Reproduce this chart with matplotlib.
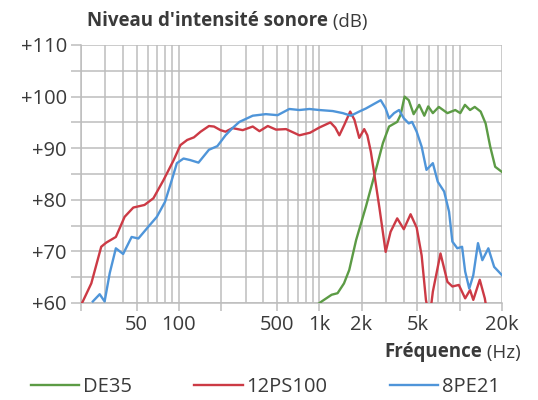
import numpy as np
import matplotlib
matplotlib.use("Agg")
import matplotlib.pyplot as plt
from matplotlib.ticker import FixedLocator, NullFormatter

plt.rcParams['font.family'] = ['Open Sans', 'DejaVu Sans']

# DE35 (green)
de35_f = [950, 1040, 1225, 1350, 1500, 1635, 1830, 2150, 2530, 2840, 3140, 3590, 3800,
          4050, 4340, 4700, 5150, 5600, 5970, 6440, 7100, 8180, 9300, 10100, 10900,
          11850, 12800, 14100, 15300, 16500, 17900, 20000]
de35_db = [59.5, 60.3, 61.6, 61.9, 63.8, 66.4, 72.2, 78.7, 85.8, 91.0, 94.2, 95.1, 96.5,
           100.0, 99.3, 96.6, 98.4, 96.3, 98.1, 96.8, 98.0, 96.8, 97.4, 96.8, 98.4,
           97.4, 98.0, 97.1, 94.8, 90.3, 86.4, 85.4]

# 12PS100 (red)
ps100_f = [20, 20.7, 23.8, 28, 30.4, 35.6, 41.1, 47.4, 56.9, 65.9, 77.7, 91.9, 102.6,
           114.7, 128, 142.9, 163.8, 177.9, 197.9, 215, 241, 285, 336, 375, 430, 492,
           580, 722, 860, 1000, 1200, 1300, 1390, 1506, 1660, 1780, 1926, 2090, 2200,
           2330, 2450, 2680, 2970, 3220, 3590, 4000, 4470, 4940, 5360, 5750, 6100,
           6440, 7300, 8180, 8870, 9860, 10940, 11850, 12500, 13900, 15100, 15500]
ps100_db = [59.5, 60.3, 63.8, 70.9, 71.7, 72.8, 76.7, 78.5, 79.0, 80.3, 83.8, 87.7, 90.6,
            91.6, 92.1, 93.2, 94.3, 94.2, 93.5, 93.2, 93.9, 93.5, 94.2, 93.3, 94.3, 93.6,
            93.7, 92.5, 93.0, 94.0, 95.0, 94.0, 92.5, 94.5, 97.1, 95.5, 92.0, 93.7, 92.5,
            89.3, 85.5, 78.5, 69.9, 73.8, 76.4, 74.3, 77.2, 74.6, 69.2, 60.6, 57.0,
            62.2, 69.6, 64.1, 63.2, 63.5, 60.9, 62.5, 60.6, 64.5, 60.9, 59.0]

# 8PE21 (blue)
pe21_f = [24.4, 27.3, 29.6, 32.2, 35.6, 40.1, 46.1, 51.5, 60.7, 69.7, 79.7, 89, 96.8,
          108, 120.5, 138, 163.8, 188, 215, 241, 270, 336, 416, 505, 612, 722, 850,
          1000, 1247, 1470, 1680, 1926, 2150, 2500, 2740, 2970, 3140, 3410, 3700, 4000,
          4340, 4580, 4940, 5360, 5800, 6440, 6980, 7750, 8400, 8870, 9620, 10400,
          10940, 11700, 12500, 13500, 14500, 16000, 17600, 20000]
pe21_db = [60.3, 61.7, 60.3, 65.8, 70.6, 69.5, 72.8, 72.5, 74.8, 76.7, 79.6, 83.8, 87.1,
           88.0, 87.7, 87.2, 89.7, 90.4, 92.5, 93.9, 95.1, 96.3, 96.6, 96.4, 97.6, 97.4,
           97.6, 97.4, 97.2, 96.8, 96.3, 97.1, 97.7, 98.7, 99.3, 97.7, 95.8, 96.8, 97.4,
           95.8, 94.8, 95.1, 93.2, 90.3, 85.8, 87.1, 83.5, 81.6, 77.7, 71.9, 70.6, 70.9,
           66.1, 62.8, 65.4, 71.6, 68.3, 70.6, 67.0, 65.4]

x_ticks = [20, 50, 100, 200, 500, 1000, 2000, 5000, 10000, 20000]
x_labels = ['', '50', '100', '', '500', '1k', '2k', '5k', '', '20k']
y_ticks = [60, 70, 80, 90, 100, 110]
y_labels = ['+60', '+70', '+80', '+90', '+100', '+110']

green = '#5c9b45'
red = '#cc3a45'
blue = '#4f95d9'
grid_c = '#bdbdbd'
text_c = '#3a3a3a'

fig = plt.figure(figsize=(5.38, 4.0), dpi=100)
ax = fig.add_axes([0.150, 0.2425, 0.783, 0.645])

ax.plot(de35_f, de35_db, color=green, lw=1.7, label='DE35', zorder=3, solid_joinstyle='round')
ax.plot(ps100_f, ps100_db, color=red, lw=1.7, label='12PS100', zorder=3, solid_joinstyle='round')
ax.plot(pe21_f, pe21_db, color=blue, lw=1.7, label='8PE21', zorder=3, solid_joinstyle='round')

ax.set_xscale('log')
ax.set_xlim(20, 20000)
ax.set_ylim(60, 110)

minor_x = [m * 10 ** e for e in range(1, 5) for m in range(2, 10)
           if 20 <= m * 10 ** e <= 20000 and m * 10 ** e not in x_ticks]
ax.xaxis.set_major_locator(FixedLocator(x_ticks))
ax.xaxis.set_minor_locator(FixedLocator(minor_x))
ax.set_xticklabels(x_labels)
ax.xaxis.set_minor_formatter(NullFormatter())

ax.yaxis.set_major_locator(FixedLocator(y_ticks))
ax.yaxis.set_minor_locator(FixedLocator([65, 75, 85, 95, 105]))
ax.set_yticklabels(y_labels)

ax.grid(True, which='both', color=grid_c, lw=1.1, zorder=0)
ax.set_axisbelow(True)
for s in ['top', 'right']:
    ax.spines[s].set_visible(False)
for s in ['left', 'bottom']:
    ax.spines[s].set_color(grid_c)
    ax.spines[s].set_linewidth(1.1)

ax.tick_params(axis='x', which='major', length=6, width=1.1, color=grid_c,
               labelsize=14.5, labelcolor=text_c, pad=3)
ax.tick_params(axis='x', which='minor', length=0)
ax.tick_params(axis='y', which='both', length=7, width=1.1, color=grid_c,
               labelsize=14.5, labelcolor=text_c, pad=3)

# title: bold part + normal part
t1 = fig.text(0.162, 0.948, "Niveau d'intensité sonore", fontsize=13.5,
              fontweight='bold', color=text_c, va='center', ha='left')
ax.annotate(' (dB)', xy=(1, 0), xycoords=t1, va='bottom', ha='left',
            fontsize=13.5, color=text_c)

# x label: bold part + normal part, right aligned
t2 = fig.text(0.968, 0.118, ' (Hz)', fontsize=13.5, color=text_c,
              va='center', ha='right')
ax.annotate('Fréquence', xy=(0, 0), xycoords=t2, va='bottom', ha='right',
            fontsize=13.5, fontweight='bold', color=text_c)

fig.legend(loc='center left', bbox_to_anchor=(0.038, 0.032), ncol=3, frameon=False,
           fontsize=14.5, handlelength=2.4, handletextpad=0.2, columnspacing=3.1,
           borderpad=0, labelcolor=text_c)

fig.savefig('out.png', dpi=100)
